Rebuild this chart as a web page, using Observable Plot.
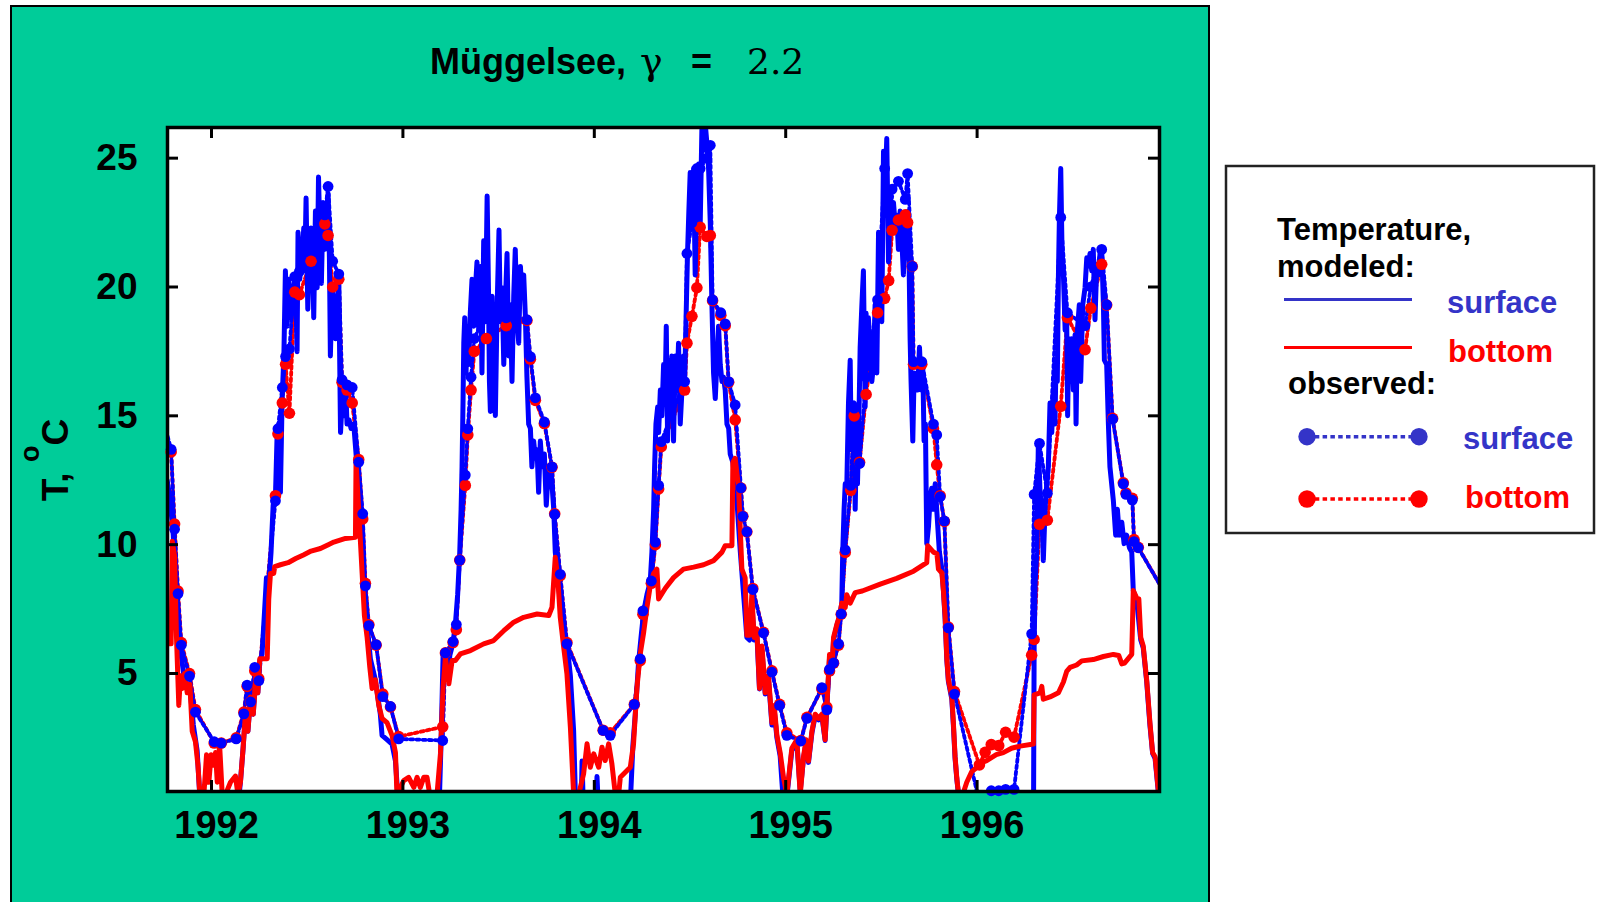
<!DOCTYPE html>
<html>
<head>
<meta charset="utf-8">
<script src="https://cdn.jsdelivr.net/npm/d3@7"></script>
<script src="https://cdn.jsdelivr.net/npm/@observablehq/plot@0.6"></script>
<style>
  html, body { margin: 0; padding: 0; background: #ffffff; }
  body { width: 1598px; height: 902px; overflow: hidden; position: relative; font-family: "Liberation Sans", Arial, sans-serif; }
  #panel { position: absolute; left: 10px; top: 5px; width: 1196px; height: 900px; background: #00cc99; border: 2px solid #000; border-bottom: none; }
  #chart { position: absolute; left: 0; top: 0; }
  #overlay { position: absolute; left: 0; top: 0; }
</style>
</head>
<body>
<div id="panel"></div>
<div id="chart"></div>
<svg id="overlay" width="1598" height="902" xmlns="http://www.w3.org/2000/svg"></svg>
<script>
// ---------- data ----------
const xTicks = [1992, 1993, 1994, 1995, 1996];
const yTicks = [5, 10, 15, 20, 25];
const xDomain = [1991.770, 1996.953];
const yDomain = [0.42, 26.19];

const titleText = "Müggelsee,";
const titleGreek = "γ";
const titleValue = "2.2";
const yLabelMain = "T, ";
const yLabelSup = "o";
const yLabelUnit = "C";
const legendTitle1 = "Temperature,";
const legendTitle2 = "modeled:";
const legendTitle3 = "observed:";
const legendSeries = ["surface", "bottom"];

// modeled surface temperature [decimal year, °C]
const modeledSurface = [
[1991.768,12.5],[1991.782,11.86],[1991.800,10.37],[1991.812,8.22],[1991.829,6.4],[1991.856,4.91],[1991.890,4.25],[1991.905,3.0],[1991.925,2.0],[1991.939,0.2],[1991.950,0],
[1992.140,0],[1992.151,0.78],[1992.165,2.10],[1992.177,3.42],[1992.190,2.76],[1992.204,4.09],[1992.218,3.42],[1992.230,4.75],[1992.242,4.25],[1992.252,5.49],[1992.264,5.74],[1992.277,7.40],[1992.287,8.72],[1992.299,8.39],[1992.311,9.71],[1992.322,11.53],[1992.334,11.86],[1992.343,14.35],[1992.351,14.68],[1992.360,12.03],[1992.369,15.67],[1992.378,17.32],[1992.386,20.63],[1992.395,18.48],[1992.404,20.30],[1992.416,18.81],[1992.426,19.81],[1992.439,20.47],[1992.447,17.49],[1992.452,22.12],[1992.461,20.30],[1992.474,21.3],[1992.482,22.29],[1992.487,20.63],[1992.494,23.45],[1992.503,19.14],[1992.512,21.3],[1992.520,22.29],[1992.529,20.97],[1992.534,18.81],[1992.543,22.95],[1992.552,19.97],[1992.559,24.27],[1992.566,22.12],[1992.574,20.14],[1992.583,23.28],[1992.592,21.46],[1992.601,22.95],[1992.609,23.61],[1992.616,21.13],[1992.621,17.32],[1992.630,19.97],[1992.639,19.31],[1992.648,17.99],[1992.656,19.31],[1992.665,20.30],[1992.674,14.35],[1992.682,15.5],[1992.691,15.0],[1992.700,16.33],[1992.708,14.68],[1992.719,14.84],[1992.729,14.51],[1992.743,14.68],[1992.757,13.35],[1992.769,11.70],[1992.787,9.71],[1992.799,8.06],[1992.813,6.90],[1992.830,5.57],[1992.856,4.75],[1992.882,3.42],[1992.891,2.60],[1992.917,2.43],[1992.943,2.26],[1992.961,1.60],[1992.973,0.3],[1992.980,0],
[1993.190,0],[1993.200,2.5],[1993.210,5.74],[1993.222,5.82],[1993.234,4.91],[1993.245,5.7],[1993.262,6.2],[1993.274,6.90],[1993.286,8.06],[1993.297,9.71],[1993.304,11.37],[1993.309,13.02],[1993.314,15.5],[1993.318,17.82],[1993.323,18.81],[1993.330,16.66],[1993.335,18.48],[1993.344,16.99],[1993.352,18.98],[1993.361,20.30],[1993.370,18.48],[1993.379,19.97],[1993.387,20.97],[1993.396,18.32],[1993.405,20.80],[1993.413,16.66],[1993.422,21.79],[1993.431,18.65],[1993.440,23.53],[1993.447,19.97],[1993.452,16.33],[1993.457,15.17],[1993.466,19.64],[1993.474,16.33],[1993.483,15.01],[1993.492,19.14],[1993.502,22.21],[1993.509,18.65],[1993.518,19.97],[1993.527,16.99],[1993.535,19.31],[1993.544,21.30],[1993.553,17.32],[1993.561,19.31],[1993.570,16.33],[1993.579,19.64],[1993.587,21.46],[1993.596,18.81],[1993.605,17.82],[1993.614,20.80],[1993.622,19.64],[1993.631,20.47],[1993.640,18.81],[1993.648,16.5],[1993.657,14.68],[1993.666,14.51],[1993.674,13.02],[1993.683,14.02],[1993.692,13.35],[1993.701,13.68],[1993.709,12.03],[1993.718,14.02],[1993.727,13.02],[1993.739,13.52],[1993.749,11.53],[1993.761,13.02],[1993.774,12.86],[1993.788,11.37],[1993.796,9.71],[1993.809,8.88],[1993.822,7.73],[1993.840,6.40],[1993.857,6.15],[1993.875,4.91],[1993.892,2.76],[1993.901,0.3],[1993.910,0],
[1993.932,0],[1993.936,1.6],[1993.942,0],[1994.010,0],[1994.014,1.0],[1994.020,0],[1994.185,0],[1994.191,0.45],[1994.202,2.26],[1994.214,3.42],[1994.231,5.41],[1994.244,6.40],[1994.258,7.40],[1994.275,8.06],[1994.292,8.55],[1994.301,9.71],[1994.310,11.37],[1994.315,13.02],[1994.322,14.68],[1994.331,15.34],[1994.336,14.35],[1994.345,16.0],[1994.353,15.0],[1994.362,16.99],[1994.371,16.33],[1994.376,18.48],[1994.383,14.02],[1994.390,17.16],[1994.397,15.67],[1994.405,17.32],[1994.414,14.02],[1994.423,17.32],[1994.432,16.0],[1994.440,17.82],[1994.449,14.68],[1994.458,16.0],[1994.466,17.32],[1994.472,16.33],[1994.480,18.98],[1994.487,21.3],[1994.494,22.95],[1994.501,24.44],[1994.510,22.29],[1994.519,24.6],[1994.527,20.47],[1994.536,24.11],[1994.545,24.77],[1994.553,22.29],[1994.562,26.1],[1994.571,25.3],[1994.580,26.3],[1994.588,25.6],[1994.597,24.6],[1994.606,22.45],[1994.614,19.47],[1994.623,16.66],[1994.632,15.67],[1994.640,16.99],[1994.649,18.48],[1994.658,16.99],[1994.667,16.33],[1994.675,16.5],[1994.684,16.0],[1994.693,14.68],[1994.702,14.51],[1994.710,13.52],[1994.724,13.19],[1994.745,11.7],[1994.763,9.71],[1994.780,8.06],[1994.797,6.40],[1994.811,6.3],[1994.823,7.8],[1994.835,6.3],[1994.849,6.6],[1994.863,4.4],[1994.876,5.9],[1994.893,4.2],[1994.910,4.8],[1994.928,3.0],[1994.940,3.6],[1994.954,2.5],[1994.971,1.8],[1994.985,0.3],[1994.990,0],
[1995.000,0],[1995.010,0.5],[1995.032,2.0],[1995.058,2.35],[1995.076,0.45],[1995.093,1.7],[1995.107,2.35],[1995.119,1.55],[1995.137,2.7],[1995.154,3.35],[1995.172,3.2],[1995.189,3.35],[1995.206,2.4],[1995.215,3.7],[1995.229,5.6],[1995.241,5.0],[1995.250,6.3],[1995.267,6.85],[1995.281,7.2],[1995.293,7.73],[1995.298,9.71],[1995.305,11.37],[1995.311,12.36],[1995.319,12.19],[1995.328,15.5],[1995.337,17.16],[1995.342,13.68],[1995.349,15.34],[1995.358,15.5],[1995.363,11.37],[1995.368,13.35],[1995.375,12.36],[1995.382,14.68],[1995.389,17.66],[1995.398,19.31],[1995.406,20.63],[1995.415,15.34],[1995.420,18.98],[1995.427,16.99],[1995.432,18.81],[1995.441,17.66],[1995.450,16.33],[1995.459,16.99],[1995.467,19.31],[1995.476,16.66],[1995.485,22.12],[1995.494,21.3],[1995.502,18.65],[1995.511,25.27],[1995.520,23.94],[1995.528,25.76],[1995.537,20.97],[1995.546,23.45],[1995.555,22.12],[1995.563,23.28],[1995.572,22.45],[1995.580,22.79],[1995.589,21.46],[1995.598,22.95],[1995.607,21.79],[1995.615,20.47],[1995.624,22.29],[1995.633,21.13],[1995.641,22.95],[1995.650,17.99],[1995.655,16.33],[1995.664,14.02],[1995.671,16.66],[1995.680,16.33],[1995.689,16.0],[1995.699,17.66],[1995.708,16.0],[1995.716,16.99],[1995.723,14.02],[1995.730,14.68],[1995.737,10.04],[1995.746,10.70],[1995.755,11.86],[1995.763,12.19],[1995.772,11.37],[1995.781,12.36],[1995.789,11.37],[1995.803,9.71],[1995.816,9.05],[1995.824,8.22],[1995.833,7.1],[1995.842,5.5],[1995.850,4.7],[1995.868,4.0],[1995.876,3.0],[1995.885,1.7],[1995.894,0.9],[1995.903,0.3],[1995.910,0],
[1996.295,0],[1996.298,6.0],[1996.303,8.5],[1996.312,9.71],[1996.320,13.93],[1996.329,12.03],[1996.338,11.37],[1996.346,9.38],[1996.355,11.37],[1996.364,12.36],[1996.372,13.02],[1996.381,15.5],[1996.390,14.35],[1996.399,16.0],[1996.407,14.68],[1996.412,16.99],[1996.419,16.33],[1996.425,20.47],[1996.430,22.7],[1996.437,24.6],[1996.444,21.3],[1996.451,20.47],[1996.460,18.32],[1996.468,18.81],[1996.473,15.0],[1996.479,17.99],[1996.486,16.33],[1996.494,17.99],[1996.503,16.0],[1996.512,18.15],[1996.517,14.68],[1996.524,18.32],[1996.534,19.31],[1996.541,16.33],[1996.552,19.31],[1996.564,19.97],[1996.573,21.13],[1996.581,20.80],[1996.590,21.3],[1996.599,20.63],[1996.607,21.46],[1996.616,18.73],[1996.625,20.80],[1996.634,20.47],[1996.642,21.3],[1996.651,21.46],[1996.660,19.31],[1996.665,17.16],[1996.677,16.99],[1996.686,14.68],[1996.694,13.02],[1996.712,11.7],[1996.724,10.37],[1996.733,11.37],[1996.743,10.37],[1996.756,10.87],[1996.768,10.04],[1996.781,10.37],[1996.796,9.88],[1996.808,9.71],[1996.816,8.22],[1996.834,7.8],[1996.855,6.3],[1996.868,6.0],[1996.886,4.7],[1996.903,3.0],[1996.917,1.9],[1996.930,1.7],[1996.947,0.4],[1996.960,0]
];

// modeled bottom temperature [decimal year, °C]
const modeledBottom = [
[1991.768,6.15],[1991.789,6.15],[1991.795,10.13],[1991.807,9.55],[1991.817,6.40],[1991.829,3.76],[1991.838,4.91],[1991.847,4.42],[1991.859,5.0],[1991.873,4.25],[1991.887,4.58],[1991.899,2.76],[1991.916,2.35],[1991.929,1.44],[1991.939,0.3],[1991.960,0.3],[1991.974,1.85],[1991.986,0.78],[1991.998,1.85],[1992.012,1.44],[1992.021,1.93],[1992.030,0.78],[1992.042,2.26],[1992.056,0.3],[1992.073,0.3],[1992.099,0.78],[1992.125,1.02],[1992.138,0.3],[1992.151,0.78],[1992.165,2.10],[1992.177,3.42],[1992.190,2.76],[1992.204,4.09],[1992.218,3.42],[1992.230,4.75],[1992.242,4.25],[1992.252,5.57],[1992.291,5.57],[1992.299,7.89],[1992.308,8.88],[1992.325,8.88],[1992.330,9.15],[1992.360,9.22],[1992.400,9.30],[1992.440,9.46],[1992.480,9.6],[1992.520,9.75],[1992.569,9.85],[1992.610,10.0],[1992.639,10.1],[1992.700,10.24],[1992.752,10.29],[1992.755,13.19],[1992.769,11.37],[1992.787,8.88],[1992.799,7.23],[1992.813,6.40],[1992.827,5.24],[1992.839,4.42],[1992.856,4.75],[1992.874,3.76],[1992.891,3.26],[1992.917,3.09],[1992.943,2.60],[1992.961,1.93],[1992.969,0.3],
[1993.004,0.84],[1993.030,0.97],[1993.057,0.58],[1993.074,0.97],[1993.091,0.58],[1993.109,0.97],[1993.126,0.97],[1993.140,0.3],[1993.178,0.3],[1993.196,1.88],[1993.210,4.47],[1993.222,5.63],[1993.240,4.6],[1993.257,5.5],[1993.274,5.5],[1993.300,5.76],[1993.353,5.89],[1993.422,6.15],[1993.474,6.28],[1993.527,6.66],[1993.579,6.99],[1993.631,7.18],[1993.701,7.31],[1993.762,7.25],[1993.779,7.57],[1993.796,9.51],[1993.809,8.73],[1993.822,7.18],[1993.840,6.02],[1993.857,4.98],[1993.875,2.91],[1993.892,0.3],[1993.918,0.3],[1993.944,1.10],[1993.962,2.27],[1993.979,1.36],[1993.997,1.88],
[1994.023,1.36],[1994.040,2.14],[1994.057,1.62],[1994.075,2.27],[1994.092,1.49],[1994.110,0.3],[1994.127,0.3],[1994.136,0.97],[1994.188,1.36],[1994.205,2.27],[1994.223,4.47],[1994.240,5.76],[1994.258,6.6],[1994.275,7.56],[1994.292,8.39],[1994.310,8.88],[1994.327,9.05],[1994.336,7.89],[1994.371,8.31],[1994.414,8.72],[1994.466,9.05],[1994.519,9.13],[1994.571,9.22],[1994.623,9.38],[1994.667,9.71],[1994.684,9.96],[1994.719,9.96],[1994.724,13.19],[1994.736,13.35],[1994.754,12.19],[1994.771,9.05],[1994.788,8.72],[1994.797,6.48],[1994.811,6.48],[1994.823,8.06],[1994.835,6.40],[1994.849,6.73],[1994.863,4.42],[1994.876,6.07],[1994.893,4.25],[1994.910,4.91],[1994.928,3.09],[1994.940,3.76],[1994.954,2.60],[1994.971,1.93],[1994.989,0.94],
[1995.006,0.3],[1995.032,2.10],[1995.058,2.43],[1995.076,0.3],[1995.093,1.77],[1995.107,2.43],[1995.119,1.6],[1995.137,2.76],[1995.154,3.42],[1995.172,3.26],[1995.189,3.42],[1995.206,2.43],[1995.215,3.76],[1995.229,5.74],[1995.241,5.08],[1995.250,6.40],[1995.267,6.90],[1995.281,7.23],[1995.293,7.73],[1995.311,7.56],[1995.319,8.06],[1995.337,7.73],[1995.363,8.14],[1995.400,8.2],[1995.494,8.47],[1995.580,8.69],[1995.668,8.97],[1995.737,9.30],[1995.742,9.96],[1995.772,9.71],[1995.790,9.65],[1995.798,9.05],[1995.816,8.9],[1995.824,8.22],[1995.833,7.23],[1995.842,5.57],[1995.850,4.75],[1995.868,4.09],[1995.876,3.09],[1995.885,1.77],[1995.894,0.94],[1995.903,0.3],[1995.925,0.3],[1995.946,0.78],[1995.972,1.19],[1995.998,1.35],
[1996.016,1.52],[1996.050,1.62],[1996.100,1.85],[1996.137,1.93],[1996.180,2.1],[1996.225,2.18],[1996.294,2.26],[1996.298,4.17],[1996.329,4.25],[1996.338,4.5],[1996.346,4.0],[1996.381,4.09],[1996.425,4.25],[1996.451,4.67],[1996.468,5.08],[1996.486,5.24],[1996.520,5.33],[1996.547,5.49],[1996.607,5.54],[1996.660,5.66],[1996.712,5.74],[1996.740,5.7],[1996.756,5.37],[1996.770,5.4],[1996.808,5.74],[1996.816,8.22],[1996.834,7.93],[1996.845,7.9],[1996.855,6.40],[1996.868,6.07],[1996.886,4.75],[1996.903,3.09],[1996.917,1.93],[1996.930,1.77],[1996.947,0.45],[1996.960,0]
];

// observed [decimal year]
const obsYear = [1991.745,1991.789,1991.807,1991.825,1991.842,1991.885,1991.916,1992.014,1992.051,1992.129,1992.169,1992.186,1992.204,1992.226,1992.247,1992.334,1992.347,1992.370,1992.387,1992.407,1992.435,1992.459,1992.520,1992.592,1992.609,1992.633,1992.665,1992.682,1992.708,1992.735,1992.769,1992.790,1992.804,1992.822,1992.860,1992.895,1992.935,1992.978,
1993.208,1993.222,1993.262,1993.279,1993.297,1993.326,1993.339,1993.356,1993.373,1993.436,1993.540,1993.648,1993.666,1993.692,1993.739,1993.779,1993.793,1993.822,1993.857,
1994.046,1994.083,1994.209,1994.240,1994.254,1994.298,1994.319,1994.336,1994.350,1994.472,1994.484,1994.510,1994.536,1994.553,1994.588,1994.606,1994.618,1994.661,1994.684,1994.702,1994.736,1994.766,1994.776,1994.797,1994.828,1994.884,1994.928,1994.968,
1995.006,1995.079,1995.111,1995.189,1995.215,1995.229,1995.250,1995.276,1995.290,1995.311,1995.340,1995.358,1995.386,1995.420,1995.480,1995.517,1995.538,1995.556,1995.589,1995.625,1995.637,1995.661,1995.668,1995.711,1995.772,1995.789,1995.807,1995.829,1995.850,1995.882,
1996.012,1996.042,1996.074,1996.113,1996.149,1996.193,1996.285,1996.298,1996.326,1996.367,1996.437,1996.472,1996.564,1996.594,1996.651,1996.677,1996.708,1996.764,1996.778,1996.811,1996.820,1996.842,1996.990];

// observed surface °C
const obsSurface = [14.9,13.7,10.6,8.1,6.1,4.9,3.5,2.35,2.3,2.46,3.43,4.55,3.9,5.24,4.72,11.7,14.5,16.1,17.3,17.6,20.4,20.6,21.6,22.8,23.9,21.0,20.5,16.4,16.2,16.1,13.2,11.2,8.4,6.86,6.12,4.10,3.72,2.46,
2.4,5.8,6.24,6.9,9.4,12.7,14.5,16.5,18.0,19.0,18.8,18.73,17.3,15.7,14.76,13.02,11.17,8.85,6.15,
2.79,2.6,3.8,5.57,7.43,8.59,10.1,12.3,14.0,16.33,21.3,22.5,24.6,24.6,25.0,25.5,19.5,19.0,18.57,16.33,15.42,12.2,11.1,10.5,8.26,6.57,5.05,3.76,
2.60,2.38,3.26,4.45,3.59,5.16,5.41,6.15,7.31,9.80,12.3,15.3,13.15,16.5,19.5,24.6,23.5,23.8,24.1,23.4,24.4,20.8,17.1,17.1,14.68,14.26,11.86,10.92,6.77,4.2,
0.0,0.1,0.45,0.45,0.5,0.5,6.54,11.95,13.93,12.0,22.7,19.0,18.5,20.0,21.46,19.31,14.87,12.36,11.95,11.73,10.12,9.88,8.0];

// observed bottom °C
const obsBottom = [14.7,13.6,10.8,8.2,6.2,5.0,3.6,2.3,2.3,2.5,3.5,4.5,3.9,5.1,4.8,11.9,14.3,15.5,17.0,15.1,19.8,19.7,21.0,22.45,22.0,20.0,20.3,16.3,16.0,15.5,13.3,11.0,8.5,6.9,6.1,4.2,3.7,2.55,
2.93,5.8,6.2,6.7,9.4,12.3,14.26,16.0,17.5,18.0,18.5,18.7,17.2,15.6,14.7,13.0,11.2,8.8,6.2,
2.8,2.7,3.8,5.5,7.3,8.5,10.0,12.16,13.8,16.0,17.82,18.86,19.97,22.32,21.96,22.0,19.47,18.9,18.5,16.3,14.84,12.2,11.1,10.5,8.3,6.6,5.1,3.8,
2.7,2.4,3.3,4.4,3.7,5.1,5.4,6.1,7.3,9.7,12.11,15.0,13.2,15.83,19.0,19.56,20.25,22.2,22.6,22.8,22.5,20.8,17.0,17.0,14.5,13.1,11.9,10.9,6.8,4.3,
1.45,1.94,2.24,2.20,2.72,2.53,5.71,6.32,10.79,10.95,15.37,18.81,17.57,19.18,20.88,19.3,14.9,12.4,12.0,11.8,10.2,9.9,8.0];

// ---------- build ----------
const blue = "#0000ff";
const red = "#ff0000";
const legendBlue = "#3434c8";

const obs = obsYear.map((yr, i) => ({year: yr, surface: obsSurface[i], bottom: obsBottom[i]}));
const inX = d => d.year >= xDomain[0] && d.year <= xDomain[1];
const obsDotsS = obs.filter(d => inX(d) && d.surface >= 0.35);
const obsDotsB = obs.filter(d => inX(d) && d.bottom >= 0.35);

const W = 1210, H = 902, mL = 167, mR = 51, mT = 127, mB = 111;
const plotW = W - mL - mR, plotH = H - mT - mB;
const tickLen = 11;

const chart = Plot.plot({
  width: W, height: H,
  marginLeft: mL, marginRight: mR, marginTop: mT, marginBottom: mB,
  x: {domain: xDomain, axis: null},
  y: {domain: yDomain, axis: null},
  style: {background: "transparent", fontFamily: "'Liberation Sans', Arial, sans-serif", fontWeight: "bold", fontSize: "37px", color: "black", overflow: "visible"},
  marks: [
    Plot.frame({fill: "white", stroke: "none"}),
    Plot.line(obs, {x: "year", y: "bottom", stroke: red, strokeWidth: 3.8, strokeDasharray: "3,3.2", clip: true}),
    Plot.line(obs, {x: "year", y: "surface", stroke: blue, strokeWidth: 3.8, strokeDasharray: "3,3.2", clip: true}),
    Plot.line(modeledSurface, {x: d => d[0], y: d => d[1], stroke: blue, strokeWidth: 5, strokeLinejoin: "round", clip: true}),
    Plot.line(modeledBottom, {x: d => d[0], y: d => d[1], stroke: red, strokeWidth: 5, strokeLinejoin: "round", clip: true}),
    Plot.dot(obsDotsB, {x: "year", y: "bottom", r: 5.8, fill: red, stroke: "none"}),
    Plot.dot(obsDotsS, {x: "year", y: "surface", r: 5.4, fill: blue, stroke: "none"}),
    // inward ticks on all four sides
    Plot.tickX(xTicks, {x: d => d, stroke: "black", strokeWidth: 3, insetBottom: plotH - tickLen}),
    Plot.tickX(xTicks, {x: d => d, stroke: "black", strokeWidth: 3, insetTop: plotH - tickLen}),
    Plot.tickY(yTicks, {y: d => d, stroke: "black", strokeWidth: 3, insetRight: plotW - tickLen}),
    Plot.tickY(yTicks, {y: d => d, stroke: "black", strokeWidth: 3, insetLeft: plotW - tickLen}),
    Plot.frame({stroke: "black", strokeWidth: 3.5}),
    // tick labels
    Plot.text(xTicks, {x: d => d, text: d => String(d), frameAnchor: "bottom", lineAnchor: "top", dy: 20, dx: 5, fill: "black", fontSize: 38, fontWeight: "bold"}),
    Plot.text(yTicks, {y: d => d, text: d => String(d), frameAnchor: "left", textAnchor: "end", dx: -30, fill: "black", fontSize: 37, fontWeight: "bold"})
  ]
});
document.getElementById("chart").appendChild(chart);

// ---------- title, axis label, legend ----------
const NS = "http://www.w3.org/2000/svg";
const ov = document.getElementById("overlay");
function el(tag, attrs, text) {
  const e = document.createElementNS(NS, tag);
  for (const k in attrs) e.setAttribute(k, attrs[k]);
  if (text != null) e.textContent = text;
  ov.appendChild(e);
  return e;
}
const sans = "'Liberation Sans', Arial, sans-serif";
const serif = "'DejaVu Serif', serif";

// title
el("text", {x: 430, y: 74, "font-family": sans, "font-weight": "bold", "font-size": 36, fill: "black"}, titleText);
el("text", {x: 640, y: 74, "font-family": serif, "font-size": 38, fill: "black"}, titleGreek);
el("text", {x: 691, y: 74, "font-family": sans, "font-weight": "bold", "font-size": 36, fill: "black"}, "=");
el("text", {x: 747, y: 74, "font-family": serif, "font-size": 36, fill: "black"}, titleValue);

// y-axis label (rotated) with superscript
const yl = el("text", {transform: "translate(68,460) rotate(-90)", "text-anchor": "middle", "font-family": sans, "font-weight": "bold", "font-size": 37, fill: "black"});
yl.setAttribute("xml:space", "preserve");
yl.style.whiteSpace = "pre";
const t1 = document.createElementNS(NS, "tspan"); t1.textContent = yLabelMain; yl.appendChild(t1);
const t2 = document.createElementNS(NS, "tspan"); t2.setAttribute("dy", -29); t2.setAttribute("font-size", 27); t2.textContent = yLabelSup; yl.appendChild(t2);
const t3 = document.createElementNS(NS, "tspan"); t3.setAttribute("dy", 29); t3.textContent = yLabelUnit; yl.appendChild(t3);

// legend
el("rect", {x: 1226, y: 166, width: 368, height: 367, fill: "white", stroke: "#222", "stroke-width": 2.5});
const lt = {"font-family": sans, "font-weight": "bold", "font-size": 31};
el("text", {...lt, x: 1277, y: 240, fill: "black"}, legendTitle1);
el("text", {...lt, x: 1277, y: 277, fill: "black"}, legendTitle2);
el("line", {x1: 1284, x2: 1412, y1: 299.5, y2: 299.5, stroke: legendBlue, "stroke-width": 3.2});
el("text", {...lt, x: 1447, y: 313, fill: legendBlue}, legendSeries[0]);
el("line", {x1: 1284, x2: 1412, y1: 347.5, y2: 347.5, stroke: red, "stroke-width": 3.2});
el("text", {...lt, x: 1448, y: 362, fill: red}, legendSeries[1]);
el("text", {...lt, x: 1288, y: 394, fill: "black"}, legendTitle3);
el("line", {x1: 1307, x2: 1419, y1: 436.7, y2: 436.7, stroke: legendBlue, "stroke-width": 3.4, "stroke-dasharray": "4.5,3.3"});
el("circle", {cx: 1307, cy: 436.7, r: 8.7, fill: legendBlue});
el("circle", {cx: 1419, cy: 436.7, r: 8.7, fill: legendBlue});
el("text", {...lt, x: 1463, y: 449, fill: legendBlue}, legendSeries[0]);
el("line", {x1: 1307, x2: 1419, y1: 499, y2: 499, stroke: red, "stroke-width": 3.4, "stroke-dasharray": "4.5,3.3"});
el("circle", {cx: 1307, cy: 499, r: 8.7, fill: red});
el("circle", {cx: 1419, cy: 499, r: 8.7, fill: red});
el("text", {...lt, x: 1465, y: 508, fill: red}, legendSeries[1]);
</script>
</body>
</html>
